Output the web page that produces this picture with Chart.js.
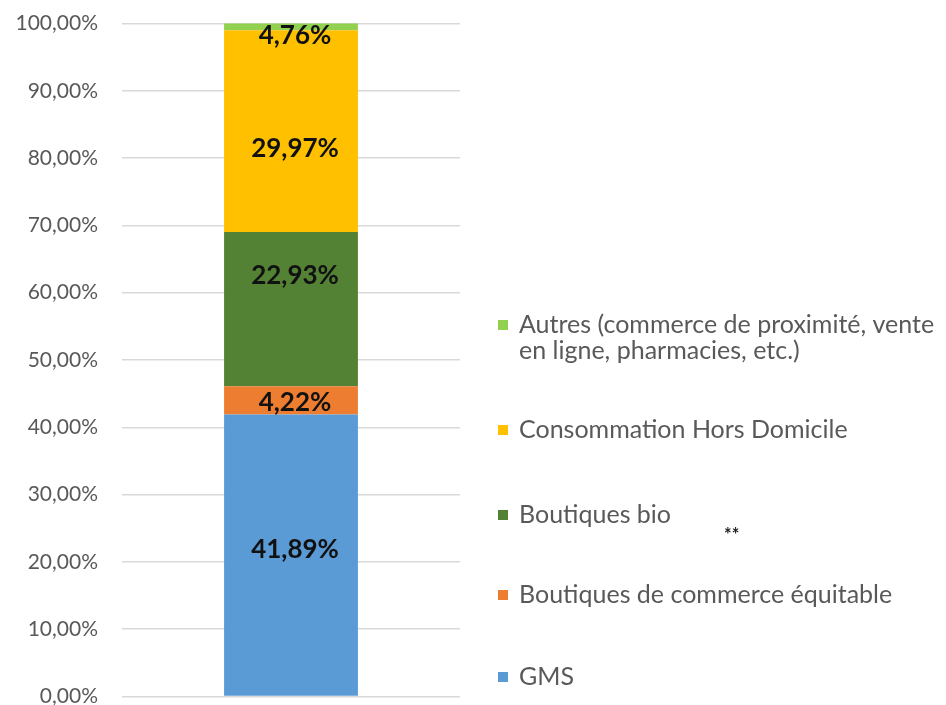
<!DOCTYPE html>
<html><head><meta charset="utf-8">
<script src="https://cdn.jsdelivr.net/npm/chart.js@4/dist/chart.umd.min.js"></script>
<style>
html,body{margin:0;padding:0;background:#fff}
#wrap{position:relative;width:946px;height:705px;overflow:hidden}
#c{position:absolute;left:0;top:-13px}
</style>
</head><body>
<div id="wrap"><canvas id="c" width="946" height="746"></canvas></div>
<script>
const categories = [""];
const seriesNames = ["GMS", "Boutiques de commerce équitable", "Boutiques bio", "Consommation Hors Domicile", "Autres (commerce de proximité, vente en ligne, pharmacies, etc.)"];
const gms = [41.89];
const equitable = [4.22];
const bio = [22.93];
const horsDomicile = [29.97];
const autres = [4.76];
const seriesColors = ["#5b9bd5", "#ed7d31", "#548235", "#ffc000", "#92d050"];
const tickValues = [0, 10, 20, 30, 40, 50, 60, 70, 80, 90, 100];
const note = "**";

const FONT = "Lato, 'Open Sans', sans-serif";
const OFF = 13; // canvas is shifted up by this many px
const fmt = v => v.toFixed(2).replace('.', ',') + '%';

const dataLabels = {
  id: 'dataLabels',
  afterDatasetsDraw(chart) {
    const ctx = chart.ctx, area = chart.chartArea;
    const shift = [-5, 2, -33, 18, 0];
    ctx.save();
    ctx.font = "bold 26px " + FONT;
    ctx.fillStyle = "#111";
    ctx.textAlign = "center";
    ctx.textBaseline = "middle";
    chart.data.datasets.forEach((ds, i) => {
      const el = chart.getDatasetMeta(i).data[0];
      const top = Math.max(el.y, area.top), bot = Math.min(el.base, area.bottom);
      let cy = (top + bot) / 2 + shift[i];
      cy = Math.max(cy, area.top + 12);
      ctx.fillText(fmt(ds.data[0]), el.x + 4, cy);
    });
    ctx.restore();
  }
};

const sideLegend = {
  id: 'sideLegend',
  afterDraw(chart) {
    const ctx = chart.ctx;
    const ys = [677, 595, 515, 430, 325];
    ctx.save();
    ctx.translate(0, OFF);
    ctx.font = "25px " + FONT;
    ctx.textBaseline = "middle";
    ctx.textAlign = "left";
    chart.data.datasets.forEach((ds, i) => {
      const y = ys[i];
      ctx.fillStyle = ds.backgroundColor;
      ctx.fillRect(498, y - 5, 10, 10);
      ctx.fillStyle = "#595959";
      const words = ds.label.split(' ');
      const lines = []; let cur = '';
      words.forEach(w => {
        const t = cur ? cur + ' ' + w : w;
        if (ctx.measureText(t).width > 428 && cur) { lines.push(cur); cur = w; } else cur = t;
      });
      lines.push(cur);
      lines.forEach((l, k) => ctx.fillText(l, 519, y + k * 26));
    });
    ctx.font = "bold 18px " + FONT;
    ctx.fillStyle = "#222";
    ctx.fillText(note, 724, 535);
    ctx.restore();
  }
};

const values = [gms, equitable, bio, horsDomicile, autres];
new Chart(document.getElementById('c'), {
  type: 'bar',
  data: {
    labels: categories,
    datasets: seriesNames.map((n, i) => ({
      label: n, data: values[i], backgroundColor: seriesColors[i],
      borderWidth: 0, categoryPercentage: 1, barPercentage: 0.396
    }))
  },
  options: {
    responsive: false,
    animation: false,
    layout: { padding: { left: 0, top: 0, right: 486, bottom: 0 } },
    plugins: { legend: { display: false }, tooltip: { enabled: false } },
    scales: {
      x: { stacked: true, display: false },
      y: {
        stacked: true, min: 0, max: 100,
        afterBuildTicks: s => { s.ticks = tickValues.map(v => ({ value: v })); },
        afterFit: s => { s.width = 122; },
        border: { display: false },
        grid: { color: "#d9d9d9", lineWidth: 1.5, drawTicks: false },
        ticks: { padding: 24, color: "#595959", font: { size: 21, family: FONT }, callback: v => fmt(v) }
      }
    }
  },
  plugins: [dataLabels, sideLegend]
});
</script>
</body></html>
